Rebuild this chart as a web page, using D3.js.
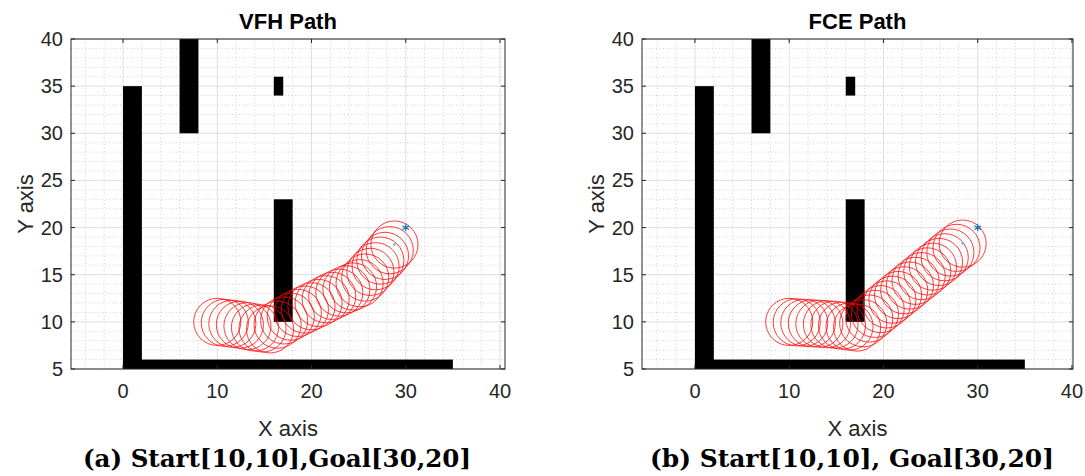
<!DOCTYPE html>
<html>
<head>
<meta charset="utf-8">
<script src="https://cdn.jsdelivr.net/npm/d3@7"></script>
<style>
  body { margin: 0; background: #fff; }
  text { font-family: "Liberation Sans", Arial, sans-serif; fill: #262626; }
</style>
</head>
<body>
<script>
// axis ticks
let x_ticks = [0, 10, 20, 30, 40];
let y_ticks = [5, 10, 15, 20, 25, 30, 35, 40];
let x_minor_ticks = d3.range(-4, 41, 2).filter(v => v % 10 !== 0);
let y_minor_ticks = d3.range(6, 40, 1).filter(v => v % 5 !== 0);

// obstacles: [x0, x1, y0, y1]
let obstacles = [
    [0, 2, 5, 35],
    [0, 35, 5, 6],
    [6, 8, 30, 40],
    [16, 17, 34, 36],
    [16, 18, 10, 23]
];

let start_point = [10, 10];
let goal_point = [30, 20];
let robot_radius = 2.5;

// VFH robot positions
let vfh_x = [10.0, 10.8, 11.6, 12.4, 13.2, 14.0, 14.8, 15.6,
             16.4, 17.1, 17.8, 18.55, 19.3, 20.0, 20.75, 21.5, 22.2, 22.95, 23.7, 24.4, 25.1,
             25.7, 26.25, 26.8, 27.3, 27.8, 28.3, 28.8];
let vfh_y = [10.0, 9.9, 9.8, 9.7, 9.55, 9.4, 9.3, 9.2,
             9.7, 10.15, 10.55, 10.95, 11.3, 11.65, 12.0, 12.4, 12.75, 13.1, 13.45, 13.75, 14.1,
             14.7, 15.3, 15.9, 16.5, 17.0, 17.6, 18.2];

// FCE robot positions
let fce_x = [10.0, 10.8, 11.6, 12.4, 13.2, 14.0, 14.8, 15.6, 16.4, 17.2,
             17.85, 18.5, 19.1, 19.7, 20.35, 20.95, 21.55, 22.2, 22.8, 23.4, 24.05,
             24.65, 25.25, 25.9, 26.5, 27.1, 27.75, 28.4];
let fce_y = [10.0, 9.95, 9.9, 9.85, 9.8, 9.75, 9.7, 9.6, 9.5, 9.4,
             9.85, 10.35, 10.85, 11.35, 11.85, 12.35, 12.85, 13.35, 13.85, 14.35, 14.85,
             15.35, 15.85, 16.35, 16.85, 17.35, 17.85, 18.3];

// colors
let color_axis = "#262626";
let color_grid = "#dfdfdf";
let color_minor = "#bdbdbd";
let color_path = "#ff0000";
let color_goal = "#0072bd";
let color_end = "#4dbeee";

let plot_top = 39;
let plot_bottom = 369;

let svg = d3.select("body").append("svg")
    .attr("width", 1085)
    .attr("height", 476);

function draw_panel(p) {
    let x = d3.scaleLinear().domain(p.x_domain).range([p.left, p.right]);
    let y = d3.scaleLinear().domain([5, 40]).range([plot_bottom, plot_top]);
    let g = svg.append("g");

    // minor grid
    g.selectAll(".xminor").data(x_minor_ticks.filter(v => v > p.x_domain[0]))
        .join("line")
        .attr("x1", d => x(d)).attr("x2", d => x(d))
        .attr("y1", plot_top).attr("y2", plot_bottom)
        .attr("stroke", color_minor).attr("stroke-width", 0.7)
        .attr("stroke-dasharray", "1,2.5");
    g.selectAll(".yminor").data(y_minor_ticks)
        .join("line")
        .attr("x1", p.left).attr("x2", p.right)
        .attr("y1", d => y(d)).attr("y2", d => y(d))
        .attr("stroke", color_minor).attr("stroke-width", 0.7)
        .attr("stroke-dasharray", "1,2.5");

    // major grid
    g.selectAll(".xmajor").data(x_ticks)
        .join("line")
        .attr("x1", d => x(d)).attr("x2", d => x(d))
        .attr("y1", plot_top).attr("y2", plot_bottom)
        .attr("stroke", color_grid).attr("stroke-width", 1);
    g.selectAll(".ymajor").data(y_ticks)
        .join("line")
        .attr("x1", p.left).attr("x2", p.right)
        .attr("y1", d => y(d)).attr("y2", d => y(d))
        .attr("stroke", color_grid).attr("stroke-width", 1);

    // obstacles
    g.selectAll(".obstacle").data(obstacles)
        .join("rect")
        .attr("x", d => x(d[0]))
        .attr("y", d => y(d[3]))
        .attr("width", d => x(d[1]) - x(d[0]))
        .attr("height", d => y(d[2]) - y(d[3]))
        .attr("fill", "#000");

    // robot footprints
    let rx = x(robot_radius) - x(0);
    let ry = y(0) - y(robot_radius);
    g.selectAll(".robot").data(d3.zip(p.path_x, p.path_y))
        .join("ellipse")
        .attr("cx", d => x(d[0]))
        .attr("cy", d => y(d[1]))
        .attr("rx", rx).attr("ry", ry)
        .attr("fill", "none")
        .attr("stroke", color_path)
        .attr("stroke-width", 0.9)
        .attr("stroke-opacity", 0.85);

    // end position and goal
    let last = p.path_x.length - 1;
    g.append("circle")
        .attr("cx", x(p.path_x[last])).attr("cy", y(p.path_y[last]))
        .attr("r", 1.3).attr("fill", color_end);
    g.append("path")
        .attr("transform", "translate(" + x(goal_point[0]) + "," + y(goal_point[1]) + ")")
        .attr("d", d3.symbol(d3.symbolAsterisk, 40)())
        .attr("stroke", color_goal).attr("stroke-width", 1.1).attr("fill", "none");

    // box and inward ticks
    g.append("rect")
        .attr("x", p.left).attr("y", plot_top)
        .attr("width", p.right - p.left).attr("height", plot_bottom - plot_top)
        .attr("fill", "none").attr("stroke", color_axis).attr("stroke-width", 1);
    let tl = 4;
    g.selectAll(".xtick").data(x_ticks)
        .join("path")
        .attr("d", d => "M" + x(d) + "," + plot_bottom + "v" + (-tl) + "M" + x(d) + "," + plot_top + "v" + tl)
        .attr("stroke", color_axis);
    g.selectAll(".ytick").data(y_ticks)
        .join("path")
        .attr("d", d => "M" + p.left + "," + y(d) + "h" + tl + "M" + p.right + "," + y(d) + "h" + (-tl))
        .attr("stroke", color_axis);

    // tick labels
    g.selectAll(".xlabel").data(x_ticks)
        .join("text")
        .attr("x", d => x(d)).attr("y", plot_bottom + 29)
        .attr("text-anchor", "middle").attr("font-size", 20)
        .text(d => d);
    g.selectAll(".ylabel").data(y_ticks)
        .join("text")
        .attr("x", p.left - 8).attr("y", d => y(d) + 7)
        .attr("text-anchor", "end").attr("font-size", 20)
        .text(d => d);

    let cx = (p.left + p.right) / 2;
    let cy = (plot_top + plot_bottom) / 2;
    g.append("text")
        .attr("x", cx).attr("y", 436)
        .attr("text-anchor", "middle").attr("font-size", 22)
        .text("X axis");
    g.append("text")
        .attr("transform", "translate(" + (p.left - 38) + "," + cy + ") rotate(-90)")
        .attr("text-anchor", "middle").attr("font-size", 22)
        .text("Y axis");
    g.append("text")
        .attr("x", cx).attr("y", 29)
        .attr("text-anchor", "middle").attr("font-size", 22)
        .attr("font-weight", "bold").style("fill", "#000")
        .text(p.title);

    // caption
    g.append("text")
        .attr("x", p.caption_x).attr("y", 467)
        .attr("font-family", "DejaVu Serif").style("font-family", "'DejaVu Serif', serif")
        .attr("font-size", 24.5).attr("font-weight", "bold").style("fill", "#000")
        .attr("textLength", p.caption_w).attr("lengthAdjust", "spacingAndGlyphs")
        .text(p.caption);
}

draw_panel({
    left: 71, right: 505, x_domain: [-5.52, 40.53],
    title: "VFH Path", caption: "(a) Start[10,10],Goal[30,20]",
    caption_x: 83, caption_w: 388,
    path_x: vfh_x, path_y: vfh_y
});

draw_panel({
    left: 642, right: 1073, x_domain: [-5.62, 40.11],
    title: "FCE Path", caption: "(b) Start[10,10], Goal[30,20]",
    caption_x: 650, caption_w: 404,
    path_x: fce_x, path_y: fce_y
});
</script>
</body>
</html>
